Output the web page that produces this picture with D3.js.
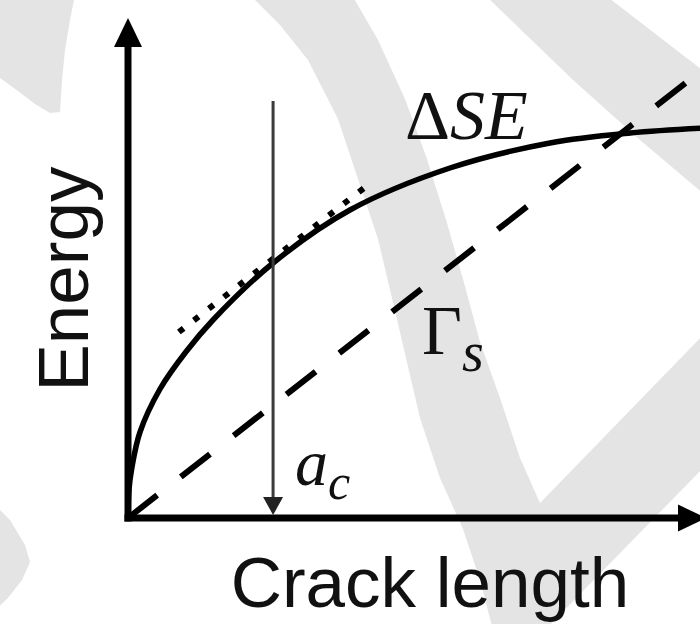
<!DOCTYPE html>
<html><head><meta charset="utf-8">
<script src="https://cdn.jsdelivr.net/npm/d3@7"></script>
<style>html,body{margin:0;padding:0;background:#fff;overflow:hidden}</style>
</head><body><svg id="c" width="700" height="624"></svg>
<script>
// ---- data ----
const crackLength = [0, 0.17, 0.69, 2.08, 5.54, 10.0, 14.7, 25.1, 38.4, 55.7, 73.0, 86.9, 100];
const deltaSE     = [0, 5.7, 10.2, 17.2, 25.8, 33.2, 39.6, 51.0, 61.6, 70.0, 75.0, 77.0, 78.0];
const gammaX = [0, 100];
const gammaS = [0, 90.2];
const tangentX = [8.8, 41.5];
const tangentY = [37.2, 66.6];
const acX = [25.1, 25.1];
const acY = [83.4, 0];
const axisLabels = ["Crack length", "Energy"];

// ---- decoration: light watermark (pixel outline) ----
const wmTopLeft = [[-5,-5],[75,-5],[70,20],[65,50],[62,80],[60,112],[50,113],[35,104],[18,91],[0,78],[-5,78]];
const wmBand = [[250,-5],[280,25],[308,60],[338,119],[358,179],[378,239],[392,298],[406,358],[420,418],[440,478],[463,529],[480,580],[493,630],
  [545,630],[705,466],[705,333],[540,503],[520,458],[500,398],[480,342],[463,279],[447,223],[427,159],[405,99],[378,40],[352,-5]];
const wmTopRight = [[485,-5],[605,-5],[705,72],[705,195],[640,140],[573,80]];
const wmBottomLeft = [[-5,505],[10,520],[25,545],[30,562],[22,580],[8,598],[-5,610]];

const svg = d3.select("#c");
const x = d3.scaleLinear().domain([0, 100]).range([128, 706]);
const y = d3.scaleLinear().domain([0, 100]).range([518, 18]);

// watermark
const poly = d3.line().curve(d3.curveLinearClosed);
[wmTopLeft, wmBand, wmTopRight, wmBottomLeft].forEach(p =>
  svg.append("path").attr("d", poly(p)).attr("fill", "#e4e4e4"));

const line = d3.line().x(d => x(d[0])).y(d => y(d[1]));

// axes
const x0 = x(0), y0 = y(0);
svg.append("line").attr("x1", x0).attr("y1", y0 + 3.5).attr("x2", x0).attr("y2", y(100) + 25)
  .attr("stroke", "#000").attr("stroke-width", 7);
svg.append("line").attr("x1", x0 - 3.5).attr("y1", y0).attr("x2", x(100) - 25).attr("y2", y0)
  .attr("stroke", "#000").attr("stroke-width", 7);
// arrowheads
svg.append("path").attr("d", `M${x0},${y(100)} L${x0 + 14},${y(100) + 29} L${x0 - 14},${y(100) + 29} Z`).attr("fill", "#000");
svg.append("path").attr("d", `M${x(100)},${y0} L${x(100) - 28},${y0 - 13.5} L${x(100) - 28},${y0 + 13.5} Z`).attr("fill", "#000");

// Gamma_s dashed line
svg.append("path").attr("d", line(gammaX.map((v, i) => [v, gammaS[i]])))
  .attr("fill", "none").attr("stroke", "#000").attr("stroke-width", 6)
  .attr("stroke-dasharray", "37,30");

// Delta SE curve
svg.append("path")
  .attr("d", d3.line().x(d => x(d[0])).y(d => y(d[1])).curve(d3.curveCatmullRom.alpha(0.5))(crackLength.map((v, i) => [v, deltaSE[i]])))
  .attr("fill", "none").attr("stroke", "#000").attr("stroke-width", 5.5);

// tangent dotted line
svg.append("path").attr("d", line(tangentX.map((v, i) => [v, tangentY[i]])))
  .attr("fill", "none").attr("stroke", "#000").attr("stroke-width", 6)
  .attr("stroke-dasharray", "6,13");

// a_c vertical arrow
svg.append("line").attr("x1", x(acX[0])).attr("y1", y(acY[0])).attr("x2", x(acX[1])).attr("y2", y(acY[1]) - 15)
  .attr("stroke", "#3a3a3a").attr("stroke-width", 3);
svg.append("path").attr("d", `M${x(acX[1])},${y(acY[1]) - 3} L${x(acX[1]) - 10},${y(acY[1]) - 21} L${x(acX[1]) + 10},${y(acY[1]) - 21} Z`)
  .attr("fill", "#222");

// labels
const sans = "'Liberation Sans', Arial, sans-serif";
const serif = "'Liberation Serif', 'Times New Roman', serif";
svg.append("text").attr("x", 430).attr("y", 607).attr("text-anchor", "middle")
  .attr("font-family", sans).attr("font-size", 71).attr("fill", "#111").text(axisLabels[0]);
svg.append("text").attr("transform", "translate(88,279) rotate(-90)").attr("text-anchor", "middle")
  .attr("font-family", sans).attr("font-size", 71).attr("fill", "#111").text(axisLabels[1]);

const dse = svg.append("text").attr("x", 405).attr("y", 139).attr("font-family", serif).attr("font-size", 70).attr("fill", "#111");
dse.append("tspan").text("Δ");
dse.append("tspan").attr("font-style", "italic").text("SE");

const gs = svg.append("text").attr("x", 422).attr("y", 354).attr("font-family", serif).attr("font-size", 69).attr("fill", "#111");
gs.append("tspan").text("Γ");
gs.append("tspan").attr("font-style", "italic").attr("font-size", 56).attr("dy", 17).text("s");

const ac = svg.append("text").attr("x", 295).attr("y", 485).attr("font-family", serif).attr("font-size", 66).attr("fill", "#111");
ac.append("tspan").attr("font-style", "italic").text("a");
ac.append("tspan").attr("font-style", "italic").attr("font-size", 50).attr("dy", 14).text("c");
</script></body></html>
